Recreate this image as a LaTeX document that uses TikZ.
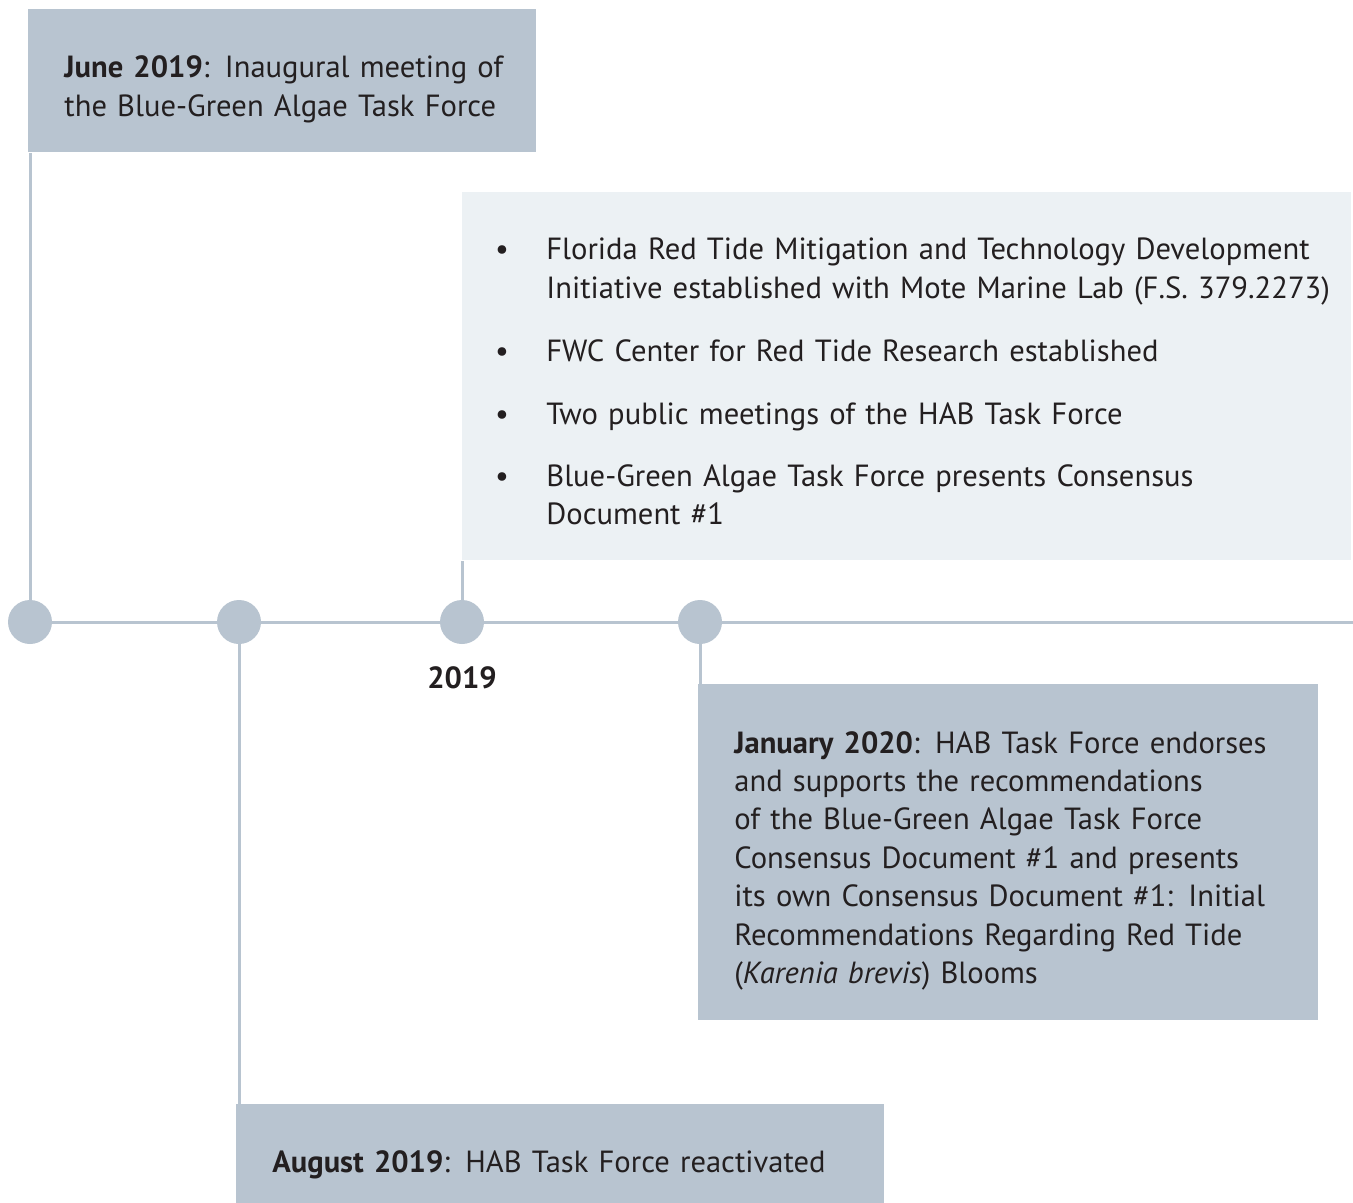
\documentclass[tikz,border=0pt]{standalone}
\usepackage{fontspec}
\setmainfont{PT Sans}
\usetikzlibrary{positioning}

\definecolor{boxblue}{HTML}{B8C4D0}
\definecolor{boxpale}{HTML}{ECF1F4}
\definecolor{inkdark}{HTML}{231F20}

\begin{document}
\begin{tikzpicture}[
    x=0.5pt, y=-0.5pt,
    event/.style={rectangle, fill=boxblue, anchor=north west, inner sep=0pt},
    note/.style={rectangle, fill=boxpale, anchor=north west, inner sep=0pt},
    dot/.style={circle, fill=boxblue, minimum size=22pt, inner sep=0pt},
    stem/.style={draw=boxblue, line width=1.5pt},
    blurb/.style={anchor=base west, inner sep=0pt, text width=330pt, align=left, text=inkdark, font=\fontsize{15.3}{19.2}\selectfont},
    bullet/.style={anchor=base, inner sep=0pt, text=inkdark, font=\fontsize{15.3}{19.2}\selectfont}
]
\fill[white] (0,0) rectangle (1353,1203);
\useasboundingbox (0,0) rectangle (1353,1203);

% Boxes for the events
\node[event, minimum width=254pt, minimum height=71.5pt] (june) at (28,9) {};
\node[note, minimum width=444.5pt, minimum height=184pt] (initiatives) at (462,192) {};
\node[event, minimum width=310pt, minimum height=168pt] (january) at (698,684) {};
\node[event, minimum width=324pt, minimum height=49.5pt] (august) at (236,1104) {};

% Dots on the time line
\node[dot] (d1) at (30,622) {};
\node[dot] (d2) at (239,622) {};
\node[dot] (d3) at (462,622) {};
\node[dot] (d4) at (700,622) {};
\coordinate (tail) at (1353,622);

% Time line and stems
\draw[stem] (d1) -- (d2);
\draw[stem] (d2) -- (d3);
\draw[stem] (d3) -- (d4);
\draw[stem] (d4) -- (tail);
\draw[stem] (d1) -- (d1 |- june.south);
\draw[stem] (d3) -- (d3 |- initiatives.south);
\draw[stem] (d4) -- (d4 |- january.north);
\draw[stem] (d2) -- (d2 |- august.north);

% Texts
\node[blurb] (june-text) at (64,78) {\textbf{June 2019}: Inaugural meeting of\\the Blue-Green Algae Task Force};

\node[bullet] (b1) at (502,260) {•};
\node[blurb, text width=420pt] (item1) at (546,260) {Florida Red Tide Mitigation and Technology Development\\Initiative established with Mote Marine Lab (F.S. 379.2273)};
\node[bullet] (b2) at (502,361) {•};
\node[blurb, text width=420pt] (item2) at (546,361) {FWC Center for Red Tide Research established};
\node[bullet] (b3) at (502,424) {•};
\node[blurb, text width=420pt] (item3) at (546,424) {Two public meetings of the HAB Task Force};
\node[bullet] (b4) at (502,486) {•};
\node[blurb, text width=420pt] (item4) at (546,486) {Blue-Green Algae Task Force presents Consensus\\Document \#1};

\node[bullet, font=\bfseries\fontsize{15.3}{19.2}\selectfont] (year) at (462,688) {2019};

\node[blurb] (january-text) at (734,753) {\textbf{January 2020}: HAB Task Force endorses\\and supports the recommendations\\of the Blue-Green Algae Task Force\\Consensus Document \#1 and presents\\its own Consensus Document \#1: Initial\\Recommendations Regarding Red Tide\\(\textit{Karenia brevis}) Blooms};

\node[blurb] (august-text) at (272,1172) {\textbf{August 2019}: HAB Task Force reactivated};

\end{tikzpicture}
\end{document}
